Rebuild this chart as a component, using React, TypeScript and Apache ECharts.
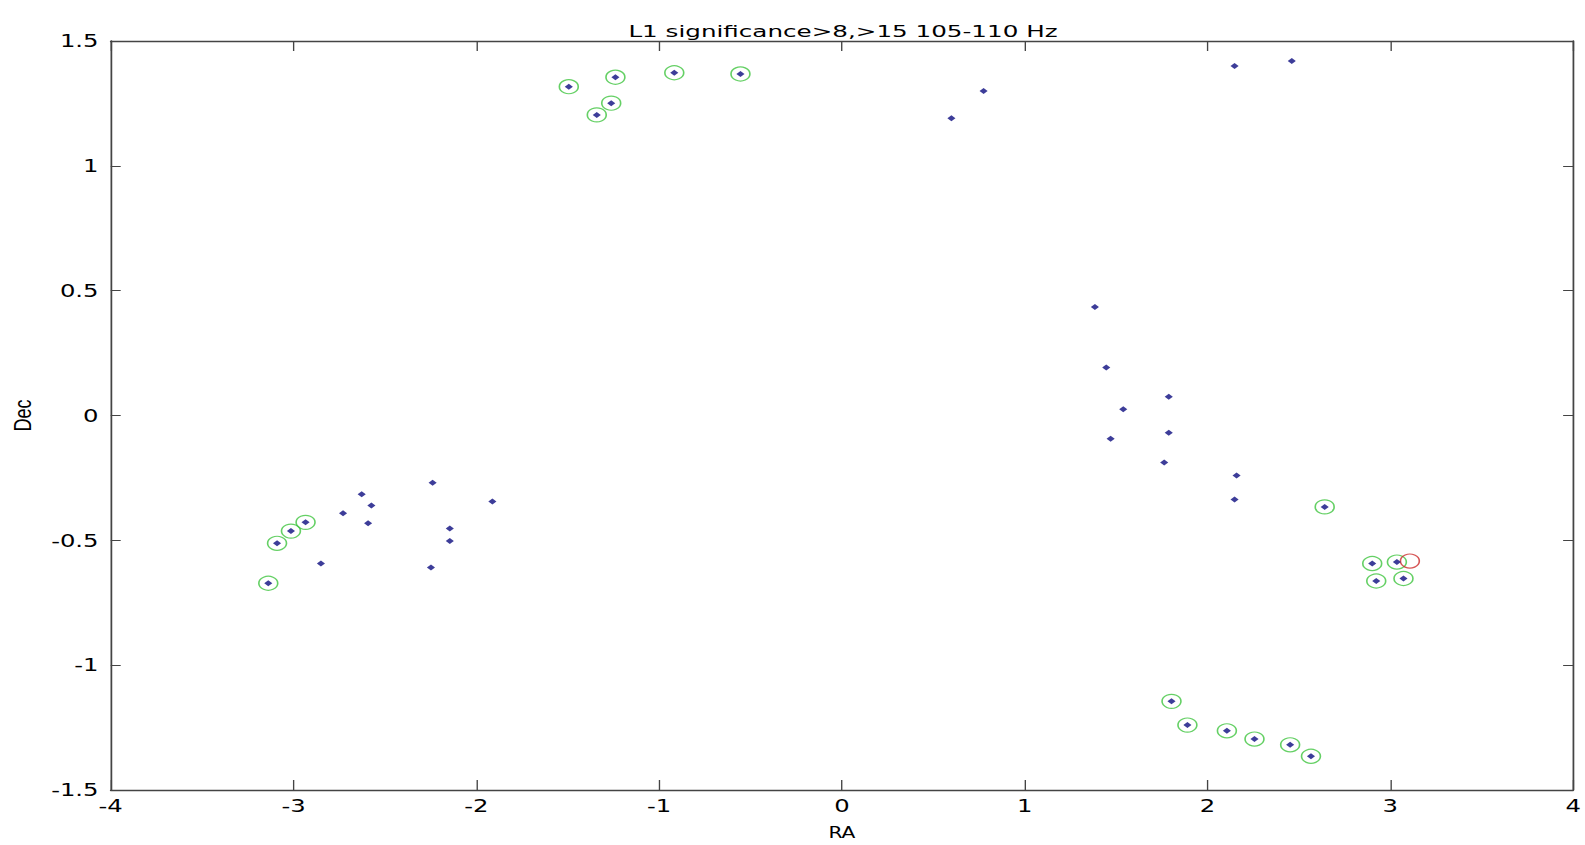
import React, { useEffect, useRef } from "react";
import * as echarts from "echarts";

const titleText = "L1 significance>8,>15 105-110 Hz";
const xAxisName = "RA";
const yAxisName = "Dec";

// Points circled in green (blue dot in centre)
const circledPoints: [number, number][] = [
  [-1.494, 1.317], [-1.239, 1.355], [-0.917, 1.373], [-0.555, 1.368], [-1.262, 1.251], [-1.341, 1.204],
  [-3.138, -0.672], [-3.09, -0.512], [-3.014, -0.463], [-2.934, -0.428],
  [1.803, -1.145], [1.89, -1.24], [2.106, -1.263], [2.257, -1.296], [2.452, -1.319], [2.566, -1.365],
  [2.641, -0.366], [2.901, -0.593], [3.036, -0.587], [2.923, -0.663], [3.072, -0.653],
];

// Points without circle
const plainPoints: [number, number][] = [
  [0.599, 1.191], [0.775, 1.3], [2.148, 1.4], [2.461, 1.42],
  [1.384, 0.435], [1.446, 0.192], [1.788, 0.075], [1.539, 0.025], [1.47, -0.093],
  [1.788, -0.069], [1.763, -0.188], [2.159, -0.24], [2.148, -0.336],
  [-2.239, -0.269], [-1.912, -0.344], [-2.145, -0.453], [-2.145, -0.503], [-2.248, -0.609],
  [-2.85, -0.593], [-2.729, -0.392], [-2.627, -0.315], [-2.574, -0.36], [-2.592, -0.432],
];

// Red circle
const redCircled: [number, number][] = [[3.107, -0.583]];

const xMin = -4, xMax = 4, xStep = 1;
const yMin = -1.5, yMax = 1.5, yStep = 0.5;

// The reference figure is horizontally stretched; render narrower and stretch.
const STRETCH = 1.35;
const FULL_W = 1585;
const FULL_H = 845;
const W0 = FULL_W / STRETCH;

export default function App() {
  const ref = useRef<HTMLDivElement>(null);
  useEffect(() => {
    if (!ref.current) return;
    const chart = echarts.init(ref.current, null, { renderer: "svg" });
    const font = "'DejaVu Sans', 'Liberation Sans', sans-serif";
    const axisColor = "#444";
    const tickLabel = { color: "#000", fontSize: 18, fontFamily: font };
    const gridLeft = 110 / STRETCH;
    const gridRight = 9 / STRETCH;
    chart.setOption({
      animation: false,
      backgroundColor: "#ffffff",
      graphic: [
        {
          type: "text",
          x: 843 / STRETCH,
          y: 32,
          scaleX: 1.14,
          style: {
            text: titleText,
            fontSize: 16,
            fontFamily: font,
            fill: "#000",
            textAlign: "center",
            textVerticalAlign: "middle",
          },
        },
      ],
      grid: { left: gridLeft, right: gridRight, top: 41, bottom: 54, containLabel: false },
      xAxis: [
        {
          type: "value", min: xMin, max: xMax, interval: xStep, position: "bottom",
          name: xAxisName, nameLocation: "middle", nameGap: 35,
          nameTextStyle: { fontSize: 15, color: "#000", fontFamily: font },
          axisLine: { show: true, onZero: false, lineStyle: { color: axisColor, width: 1.3 } },
          axisTick: { show: true, inside: true, length: 10, lineStyle: { color: axisColor } },
          axisLabel: { ...tickLabel, margin: 7 },
          splitLine: { show: false },
        },
        {
          type: "value", min: xMin, max: xMax, interval: xStep, position: "top",
          axisLine: { show: true, onZero: false, lineStyle: { color: axisColor, width: 1.3 } },
          axisTick: { show: true, inside: true, length: 10, lineStyle: { color: axisColor } },
          axisLabel: { show: false },
          splitLine: { show: false },
        },
      ],
      yAxis: [
        {
          type: "value", min: yMin, max: yMax, interval: yStep, position: "left",
          name: yAxisName, nameLocation: "middle", nameGap: 56, nameRotate: 90,
          nameTextStyle: { fontSize: 18, color: "#000", fontFamily: "'Liberation Sans', sans-serif" },
          axisLine: { show: true, onZero: false, lineStyle: { color: axisColor, width: 1.3 } },
          axisTick: { show: true, inside: true, length: 10 / STRETCH, lineStyle: { color: axisColor } },
          axisLabel: { ...tickLabel, margin: 9 },
          splitLine: { show: false },
        },
        {
          type: "value", min: yMin, max: yMax, interval: yStep, position: "right",
          axisLine: { show: true, onZero: false, lineStyle: { color: axisColor, width: 1.3 } },
          axisTick: { show: true, inside: true, length: 10 / STRETCH, lineStyle: { color: axisColor } },
          axisLabel: { show: false },
          splitLine: { show: false },
        },
      ],
      series: [
        {
          type: "scatter",
          data: circledPoints,
          symbol: "circle",
          symbolSize: 14,
          itemStyle: { color: "rgba(255,255,255,0)", borderColor: "#3fc43f", borderWidth: 1.2 },
          z: 2,
        },
        {
          type: "scatter",
          data: redCircled,
          symbol: "circle",
          symbolSize: 14,
          itemStyle: { color: "rgba(255,255,255,0)", borderColor: "#cc2a2a", borderWidth: 1.2 },
          z: 3,
        },
        {
          type: "scatter",
          data: [...plainPoints, ...circledPoints],
          symbol: "diamond",
          symbolSize: 6,
          itemStyle: { color: "#0c0c80" },
          z: 4,
        },
      ],
    });
    return () => chart.dispose();
  }, []);
  return (
    <div
      ref={ref}
      style={{
        position: "fixed",
        left: 0,
        top: 0,
        width: W0,
        height: FULL_H,
        background: "#fff",
        transform: `scaleX(${STRETCH})`,
        transformOrigin: "0 0",
      }}
    />
  );
}
